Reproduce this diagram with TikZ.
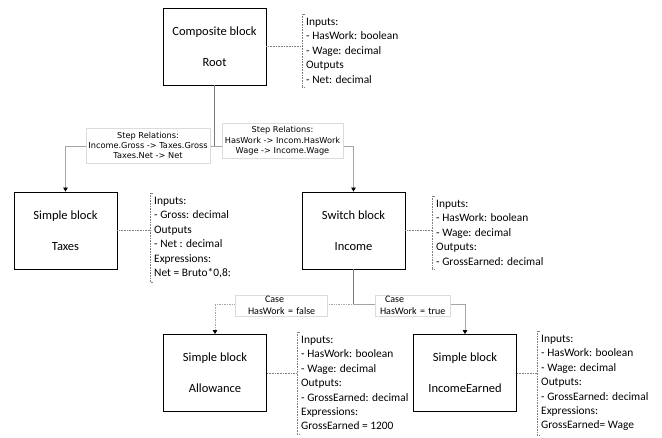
\documentclass[tikz,border=0pt]{standalone}
\usepackage{fontspec}
\setmainfont{Carlito}
\newfontfamily\stepfont{DejaVu Sans}
\usetikzlibrary{arrows.meta,positioning}
\definecolor{linegray}{RGB}{165,165,165}
\definecolor{darkline}{RGB}{120,120,120}
\definecolor{lblgray}{RGB}{220,220,220}
\newcommand\iobracket[1]{\draw[brk] ([xshift=3pt]#1.north west) -- (#1.north west) -- (#1.south west) -- ([xshift=3pt]#1.south west);}

\begin{document}
\begin{tikzpicture}[x=1pt,y=-1pt,>={Triangle[length=4pt,width=4.5pt,color=black]},
  block/.style={draw,line width=.8pt,minimum width=103pt,minimum height=77pt,align=center,font=\fontsize{12.5}{14}\selectfont,execute at begin node=\rule{0pt}{15pt}},
  iotext/.style={anchor=north west,align=left,inner xsep=4pt,inner ysep=4pt,font=\fontsize{11.4}{14.4}\selectfont,execute at begin node=\rule{0pt}{10.5pt}},
  brk/.style={densely dotted,gray,line width=.6pt},
  conn/.style={linegray,line width=.7pt},
  steplbl/.style={fill=white,draw=lblgray,font=\stepfont\fontsize{8.2}{10.3}\selectfont,align=center,inner sep=2pt},
  caselbl/.style={fill=white,draw=lblgray,font=\fontsize{10}{12}\selectfont,align=left,inner xsep=0pt,inner ysep=1.5pt}]
\useasboundingbox (0,0) rectangle (662,437);
% blocks
\node[block] (root) at (214.5,46.5) {Composite block\\[17pt]Root};
\node[block] (taxes) at (65.5,230.5) {Simple block\\[17pt]Taxes};
\node[block] (income) at (353.5,230.5) {Switch block\\[17pt]Income};
\node[block] (allow) at (215,373) {Simple block\\[17pt]Allowance};
\node[block] (earned) at (465,373) {Simple block\\[17pt]IncomeEarned};
% inputs / outputs
\node[iotext] (rootio) at (302,14) {Inputs:\\- HasWork: boolean\\- Wage: decimal\\Outputs\\- Net: decimal};
\node[iotext] (taxesio) at (150,193) {Inputs:\\- Gross: decimal\\Outputs\\- Net : decimal\\Expressions:\\Net = Bruto*0,8:};
\node[iotext] (incomeio) at (432,196) {Inputs:\\- HasWork: boolean\\- Wage: decimal\\Outputs:\\- GrossEarned: decimal};
\node[iotext] (allowio) at (297,332) {Inputs:\\- HasWork: boolean\\- Wage: decimal\\Outputs:\\- GrossEarned: decimal\\Expressions:\\GrossEarned = 1200};
\node[iotext] (earnedio) at (537,331) {Inputs:\\- HasWork: boolean\\- Wage: decimal\\Outputs:\\- GrossEarned: decimal\\Expressions:\\GrossEarned= Wage};
\foreach \b in {root,taxes,income,allow,earned}{
  \iobracket{\b io}
  \draw[brk] (\b.east) -- (\b.east -| \b io.west);
}
% step relations
\coordinate (split) at (root.south |- 0,146);
\draw[darkline,line width=.7pt] (root.south) -- (split);
\draw[conn,->] (split) -| (taxes.north);
\draw[conn,->] (split) -| (income.north);
\node[steplbl,minimum width=124pt,minimum height=35pt] (steptaxes) at (148,145.5) {Step Relations:\\Income.Gross -> Taxes.Gross\\Taxes.Net -> Net};
\node[steplbl,minimum width=121pt,minimum height=35pt] (stepincome) at (282.5,141) {Step Relations:\\HasWork -> Incom.HasWork\\Wage -> Income.Wage};
% cases
\coordinate (casesplit) at (income.south |- 0,304);
\draw[darkline,line width=.7pt] (income.south) -- (casesplit);
\draw[conn,densely dotted,->] (casesplit) -| (allow.north);
\draw[conn,->] (casesplit) -| (earned.north);
\node[caselbl,text width=92pt] (casefalse) at (281,305.5) {\hspace*{30pt}Case\\\hspace*{13pt}HasWork = false};
\node[caselbl,text width=75pt] (casetrue) at (412.5,305.5) {\hspace*{10pt}Case\\\hspace*{5pt}HasWork = true};
\end{tikzpicture}
\end{document}
